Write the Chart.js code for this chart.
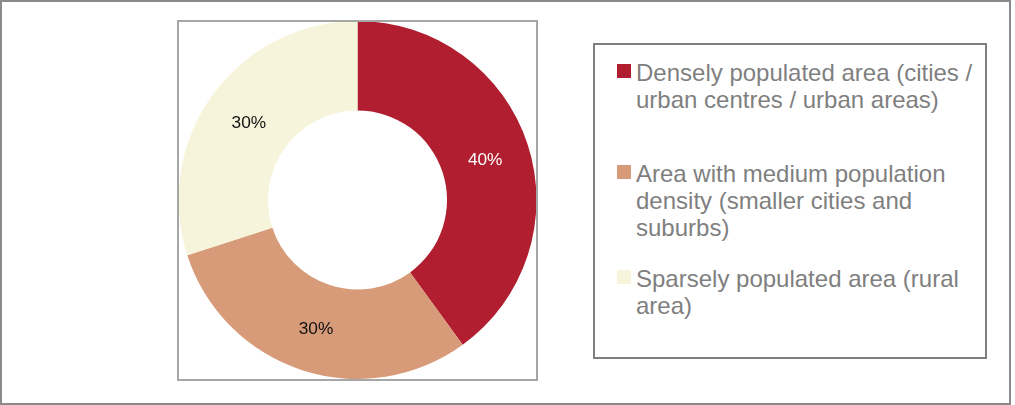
<!DOCTYPE html>
<html>
<head>
<meta charset="utf-8">
<script src="https://cdn.jsdelivr.net/npm/chart.js@4.4.1/dist/chart.umd.min.js"></script>
<style>
    html, body { margin: 0; padding: 0; background: #fff; }
    body { width: 1015px; height: 405px; position: relative; overflow: hidden;
           font-family: "Liberation Sans", Arial, sans-serif; }
    .frame { position: absolute; left: 0; top: 0; width: 1011px; height: 405px;
             box-sizing: border-box; border: 2px solid #8a8a8a; }
    .plotbox { position: absolute; left: 177px; top: 20px; width: 361px; height: 361px;
               box-sizing: border-box; border: 2px solid #a6a6a6; z-index: 2; }
    .chartwrap { position: absolute; left: 178px; top: 21px; width: 359px; height: 358px; z-index: 1; }
    .legendbox { position: absolute; left: 593px; top: 43px; width: 394px; height: 316px;
                 box-sizing: border-box; border: 2px solid #7f7f7f; }
    .item { position: absolute; left: 636px; font-size: 24px; line-height: 27px; color: #7f7f7f;
            white-space: nowrap; }
    .swatch { position: absolute; left: -19px; width: 14px; height: 14px; }
</style>
</head>
<body>
<div class="frame"></div>
<div class="legendbox"></div>
<div class="chartwrap"><canvas id="donut" width="359" height="358"></canvas></div>
<div class="plotbox"></div>
<div id="legend"></div>
<script>
const categories = [
    ["Densely populated area (cities /", "urban centres / urban areas)"],
    ["Area with medium population", "density (smaller cities and", "suburbs)"],
    ["Sparsely populated area (rural", "area)"]
];
const shares = [40, 30, 30];
const colours = ["#b01e2f", "#d89b79", "#f6f4da"];
const labelColours = ["#ffffff", "#111111", "#111111"];

// legend entry tops (page px), the way the original spreads them out
const legendTops = [59, 160, 265];

const percentLabels = {
    id: "percentLabels",
    afterDatasetsDraw(chart) {
        const ctx = chart.ctx;
        const ds = chart.data.datasets[0];
        const total = ds.data.reduce((a, b) => a + b, 0);
        ctx.save();
        ctx.font = '17.3px "Liberation Sans", Arial, sans-serif';
        ctx.textAlign = "center";
        ctx.textBaseline = "middle";
        chart.getDatasetMeta(0).data.forEach((arc, i) => {
            const p = arc.tooltipPosition();
            ctx.fillStyle = labelColours[i];
            // excel sits its labels a touch lower than the ring's middle
            ctx.fillText(Math.round(ds.data[i] / total * 100) + "%", p.x, p.y + 2);
        });
        ctx.restore();
    }
};

const chart = new Chart(document.getElementById("donut"), {
    type: "doughnut",
    data: {
        labels: categories,
        datasets: [{
            data: shares,
            backgroundColor: colours,
            borderWidth: 0
        }]
    },
    options: {
        responsive: false,
        animation: false,
        cutout: "50%",
        layout: { padding: 0 },
        plugins: {
            legend: { display: false },
            tooltip: { enabled: false }
        }
    },
    plugins: [percentLabels]
});

const legend = document.getElementById("legend");
chart.data.labels.forEach((lines, i) => {
    const item = document.createElement("div");
    item.className = "item";
    item.style.top = legendTops[i] + "px";
    const sw = document.createElement("span");
    sw.className = "swatch";
    sw.style.top = "5px";
    sw.style.background = chart.data.datasets[0].backgroundColor[i];
    item.appendChild(sw);
    lines.forEach((line, j) => {
        if (j > 0) item.appendChild(document.createElement("br"));
        item.appendChild(document.createTextNode(line));
    });
    legend.appendChild(item);
});
</script>
</body>
</html>
